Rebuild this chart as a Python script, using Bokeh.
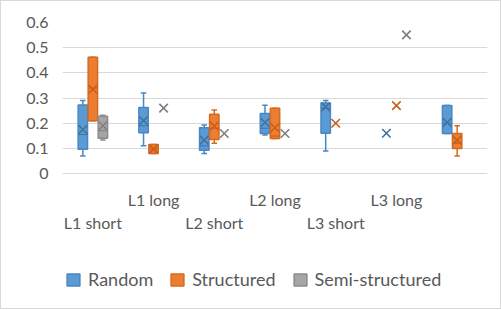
from bokeh.plotting import figure
from bokeh.models import (ColumnDataSource, Range1d, FixedTicker, Legend, LegendItem,
                          NumeralTickFormatter)
from bokeh.core.properties import value
from bokeh.embed import file_html
from bokeh.resources import INLINE

categories = ["L1 short", "L1 long", "L2 short", "L2 long", "L3 short", "L3 long", ""]
y_ticks = [0, 0.1, 0.2, 0.3, 0.4, 0.5, 0.6]
series_names = ["Random", "Structured", "Semi-structured"]

# per category: lower whisker, q1, median, q3, upper whisker, mean  (None = no data)
random_wlo = [0.07, 0.11, 0.08, 0.153, 0.09, 0.16, 0.159]
random_q1 = [0.097, 0.162, 0.093, 0.159, 0.16, 0.16, 0.159]
random_med = [0.155, 0.19, 0.11, 0.18, 0.26, 0.16, 0.2]
random_q3 = [0.272, 0.262, 0.182, 0.239, 0.28, 0.16, 0.27]
random_whi = [0.29, 0.32, 0.193, 0.271, 0.29, 0.16, 0.27]
random_mean = [0.175, 0.21, 0.133, 0.203, 0.265, 0.16, 0.203]

structured_wlo = [0.21, 0.08, 0.12, 0.139, 0.2, 0.27, 0.07]
structured_q1 = [0.21, 0.08, 0.135, 0.139, 0.2, 0.27, 0.1]
structured_med = [0.34, 0.097, 0.18, 0.149, 0.2, 0.27, 0.12]
structured_q3 = [0.462, 0.115, 0.236, 0.259, 0.2, 0.27, 0.159]
structured_whi = [0.462, 0.115, 0.252, 0.259, 0.2, 0.27, 0.19]
structured_mean = [0.335, 0.097, 0.189, 0.182, 0.2, 0.27, 0.133]

semi_wlo = [0.133, 0.26, 0.159, 0.159, None, 0.551, None]
semi_q1 = [0.14, 0.26, 0.159, 0.159, None, 0.551, None]
semi_med = [0.17, 0.26, 0.159, 0.159, None, 0.551, None]
semi_q3 = [0.228, 0.26, 0.159, 0.159, None, 0.551, None]
semi_whi = [0.232, 0.26, 0.159, 0.159, None, 0.551, None]
semi_mean = [0.19, 0.26, 0.159, 0.159, None, 0.551, None]

fills = ["#5B9BD5", "#ED7D31", "#A5A5A5"]
lines = ["#4A86C2", "#D36A22", "#8C8C8C"]
marks = ["#41719C", "#C65F1C", "#7F7F7F"]
offsets = [-0.165, 0.0, 0.165]
BOX_W = 0.155
CAP_W = 0.09
LABEL_ROWS = [-0.195, -0.103]   # staggered category-label rows (lower, upper), below the axis

TXT = "#595959"
FONT = "Lato"

p = figure(frame_width=425, frame_height=286, output_backend="svg", toolbar_location=None,
           x_axis_type=None, x_range=Range1d(0.5, 7.5), y_range=Range1d(-0.536, 0.6),
           min_border_left=61, min_border_right=13, min_border_top=21, min_border_bottom=0)
p.outline_line_color = None
p.xgrid.grid_line_color = None
p.ygrid.ticker = FixedTicker(ticks=y_ticks)
p.ygrid.grid_line_color = "#D9D9D9"
p.yaxis.ticker = FixedTicker(ticks=y_ticks)
p.yaxis.formatter = NumeralTickFormatter(format="0.[0]")
p.yaxis.axis_line_color = None
p.yaxis.major_tick_line_color = None
p.yaxis.minor_tick_line_color = None
p.yaxis.major_label_standoff = 8
p.yaxis.major_label_text_font = FONT
p.yaxis.major_label_text_font_size = "16px"
p.yaxis.major_label_text_color = TXT
p.styles = {"border": "1px solid #D9D9D9"}

all_series = [
    (random_wlo, random_q1, random_med, random_q3, random_whi, random_mean),
    (structured_wlo, structured_q1, structured_med, structured_q3, structured_whi, structured_mean),
    (semi_wlo, semi_q1, semi_med, semi_q3, semi_whi, semi_mean),
]

legend_items = []
for si, (wlo, q1, med, q3, whi, mean) in enumerate(all_series):
    xs, bw, bq1, bmed, bq3, bwh = [], [], [], [], [], []
    mx, my = [], []
    for ci in range(len(categories)):
        if mean[ci] is None:
            continue
        x = ci + 1 + offsets[si]
        mx.append(x)
        my.append(mean[ci])
        if q3[ci] > q1[ci] or whi[ci] > wlo[ci]:
            xs.append(x); bw.append(wlo[ci]); bq1.append(q1[ci]); bmed.append(med[ci])
            bq3.append(q3[ci]); bwh.append(whi[ci])
    src = ColumnDataSource(dict(x=xs, wlo=bw, q1=bq1, med=bmed, q3=bq3, whi=bwh,
                                xl=[v - CAP_W / 2 for v in xs], xr=[v + CAP_W / 2 for v in xs],
                                bl=[v - BOX_W / 2 for v in xs], br=[v + BOX_W / 2 for v in xs]))
    p.segment(x0="x", y0="wlo", x1="x", y1="q1", source=src, line_color=lines[si], line_width=1.5)
    p.segment(x0="x", y0="q3", x1="x", y1="whi", source=src, line_color=lines[si], line_width=1.5)
    p.segment(x0="xl", y0="wlo", x1="xr", y1="wlo", source=src, line_color=lines[si], line_width=1.5)
    p.segment(x0="xl", y0="whi", x1="xr", y1="whi", source=src, line_color=lines[si], line_width=1.5)
    box = p.vbar(x="x", width=BOX_W, bottom="q1", top="q3", source=src,
                 fill_color=fills[si], line_color=lines[si], line_width=1.5)
    p.segment(x0="bl", y0="med", x1="br", y1="med", source=src, line_color=marks[si], line_width=1)
    msrc = ColumnDataSource(dict(x=mx, y=my))
    p.scatter(x="x", y="y", source=msrc, marker="x", size=12, line_color=marks[si], line_width=1.6)
    legend_items.append(LegendItem(label=series_names[si], renderers=[box]))

# staggered category labels (odd categories on the lower row, even ones on the upper row)
lab_x = [i + 1 for i, c in enumerate(categories) if c]
lab_y = [LABEL_ROWS[i % 2] for i, c in enumerate(categories) if c]
lab_t = [c for c in categories if c]
p.text(x=lab_x, y=lab_y, text=lab_t, text_align="center", text_baseline="middle",
       text_font=value(FONT), text_font_size="16px", text_color=TXT)

legend = Legend(items=legend_items, orientation="horizontal", location=(3, 18))
legend.label_text_font = FONT
legend.label_text_font_size = "18px"
legend.label_text_color = TXT
legend.glyph_width = 16
legend.glyph_height = 15
legend.spacing = 16
legend.label_standoff = 7
legend.padding = 5
legend.margin = 0
legend.border_line_color = None
legend.background_fill_alpha = 0
p.add_layout(legend, "center")

open("out.html", "w").write(file_html(p, INLINE))
